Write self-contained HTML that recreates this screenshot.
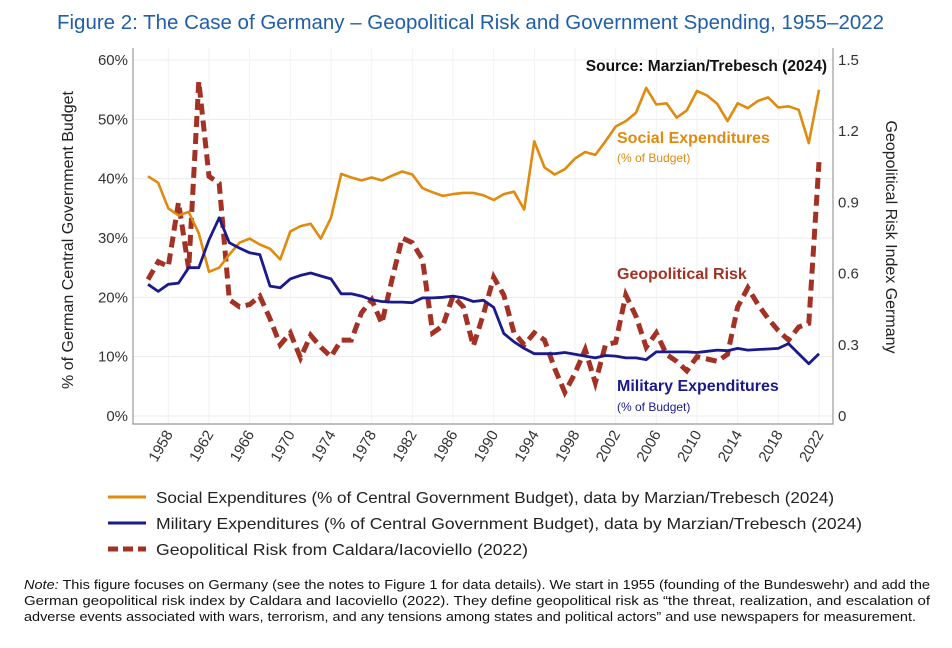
<!DOCTYPE html>
<html><head><meta charset="utf-8"><style>
body{margin:0;background:#fff;}
svg text{font-family:"Liberation Sans",Arial,sans-serif;}
</style></head><body>
<svg id="chart" width="952" height="643" viewBox="0 0 952 643" xmlns="http://www.w3.org/2000/svg">
<text x="57" y="29" font-size="20" fill="#1f5ea8" textLength="827" lengthAdjust="spacingAndGlyphs">Figure 2: The Case of Germany – Geopolitical Risk and Government Spending, 1955–2022</text>
<g id="grid"></g>
<g id="axes"></g>
<g id="series"></g>
<text x="827" y="71" text-anchor="end" font-size="15.5" font-weight="bold" fill="#111">Source: Marzian/Trebesch (2024)</text>
<text x="617" y="143" font-size="16" font-weight="bold" fill="#e08a10">Social Expenditures</text>
<text x="617" y="162" font-size="12" fill="#e08a10">(% of Budget)</text>
<text x="617" y="279" font-size="16" font-weight="bold" fill="#a33224">Geopolitical Risk</text>
<text x="617" y="391" font-size="16" font-weight="bold" fill="#1a1a8c">Military Expenditures</text>
<text x="617" y="411" font-size="12" fill="#1a1a8c">(% of Budget)</text>
<text transform="translate(73,240) rotate(-90)" text-anchor="middle" font-size="16" fill="#222">% of German Central Government Budget</text>
<text transform="translate(886,237) rotate(90)" text-anchor="middle" font-size="16" fill="#222">Geopolitical Risk Index Germany</text>
<g>
<line x1="108" y1="497" x2="146" y2="497" stroke="#e08a10" stroke-width="3"/>
<text x="156" y="503" font-size="16" fill="#222" textLength="678" lengthAdjust="spacingAndGlyphs">Social Expenditures (% of Central Government Budget), data by Marzian/Trebesch (2024)</text>
<line x1="108" y1="523" x2="146" y2="523" stroke="#1a1a8c" stroke-width="3"/>
<text x="156" y="529" font-size="16" fill="#222" textLength="706" lengthAdjust="spacingAndGlyphs">Military Expenditures (% of Central Government Budget), data by Marzian/Trebesch (2024)</text>
<line x1="108" y1="549" x2="146" y2="549" stroke="#a33224" stroke-width="5" stroke-dasharray="10 5"/>
<text x="156" y="555" font-size="16" fill="#222" textLength="372" lengthAdjust="spacingAndGlyphs">Geopolitical Risk from Caldara/Iacoviello (2022)</text>
</g>
<g font-size="13" fill="#111">
<text x="24" y="589" textLength="906" lengthAdjust="spacingAndGlyphs"><tspan font-style="italic">Note:</tspan> This figure focuses on Germany (see the notes to Figure 1 for data details). We start in 1955 (founding of the Bundeswehr) and add the</text>
<text x="24" y="605" textLength="906" lengthAdjust="spacingAndGlyphs">German geopolitical risk index by Caldara and Iacoviello (2022). They define geopolitical risk as “the threat, realization, and escalation of</text>
<text x="24" y="621" textLength="892" lengthAdjust="spacingAndGlyphs">adverse events associated with wars, terrorism, and any tensions among states and political actors” and use newspapers for measurement.</text>
</g>
</svg>
<script>
const years = [];
for (let y = 1956; y <= 2022; y++) years.push(y);
const social = [40.4,39.3,35.0,33.8,34.4,30.8,24.3,25.0,27.2,29.2,29.9,28.9,28.2,26.4,31.1,32.0,32.4,29.9,33.4,40.8,40.2,39.7,40.2,39.7,40.5,41.2,40.7,38.4,37.7,37.1,37.4,37.6,37.6,37.2,36.4,37.4,37.8,34.8,46.3,41.9,40.7,41.6,43.4,44.5,44.0,46.3,48.8,49.7,51.1,55.3,52.5,52.7,50.3,51.5,54.8,54.0,52.6,49.7,52.7,51.9,53.1,53.7,52.0,52.2,51.6,46.0,55.0];
const military = [22.2,21.0,22.2,22.4,25.0,25.0,29.7,33.4,29.2,28.3,27.5,27.2,21.9,21.6,23.1,23.7,24.1,23.6,23.1,20.6,20.6,20.2,19.6,19.3,19.2,19.2,19.1,19.9,19.9,20.0,20.2,19.9,19.3,19.5,18.3,13.9,12.5,11.4,10.5,10.5,10.5,10.7,10.4,10.1,9.8,10.2,10.1,9.8,9.8,9.5,10.8,10.8,10.8,10.8,10.7,10.9,11.1,11.0,11.4,11.1,11.2,11.3,11.4,12.2,10.5,8.8,10.5];
const risk = [0.575,0.65,0.63,0.90,0.62,1.41,1.01,0.98,0.49,0.46,0.47,0.505,0.41,0.30,0.35,0.245,0.34,0.29,0.25,0.32,0.32,0.435,0.49,0.39,0.575,0.75,0.73,0.66,0.35,0.38,0.505,0.46,0.295,0.43,0.585,0.51,0.35,0.30,0.35,0.32,0.20,0.10,0.18,0.28,0.14,0.30,0.31,0.51,0.42,0.29,0.35,0.26,0.23,0.19,0.25,0.24,0.23,0.26,0.46,0.54,0.47,0.41,0.36,0.32,0.375,0.39,1.07];
const leftTicks = [0,10,20,30,40,50,60];
const rightTicks = [0,0.3,0.6,0.9,1.2,1.5];
const xTicks = [1958,1962,1966,1970,1974,1978,1982,1986,1990,1994,1998,2002,2006,2010,2014,2018,2022];

const NS = "http://www.w3.org/2000/svg";
const X = y => 148 + (y - 1956) * (671 / 66);
const YL = p => 416 - p * (356 / 60);
const YR = r => 416 - r * (356 / 1.5);
function mk(tag, attrs, parent, txt) {
  const e = document.createElementNS(NS, tag);
  for (const k in attrs) e.setAttribute(k, attrs[k]);
  if (txt !== undefined) e.textContent = txt;
  parent.appendChild(e);
  return e;
}
const grid = document.getElementById('grid');
const axes = document.getElementById('axes');
const series = document.getElementById('series');

leftTicks.forEach(t => {
  const l = mk('line', {x1:133, x2:833, y1:YL(t), y2:YL(t), stroke:'#ececec', 'stroke-width':1}, grid);
  
  
  const tx = mk('text', {x:128, y:YL(t)+5, 'text-anchor':'end', 'font-size':15, fill:'#333'}, axes, t + '%');
  
  
});
rightTicks.forEach(t => {
  const tx = mk('text', {x:838, y:YR(t)+5, 'font-size':15, fill:'#333'}, axes, t === 0 ? '0' : String(t));
  
  
});
xTicks.forEach(t => {
  const l = mk('line', {x1:X(t), x2:X(t), y1:48, y2:424, stroke:'#f2f2f2', 'stroke-width':1}, grid);
  
  
  const tx = mk('text', {transform:`translate(${X(t)+5},${434}) rotate(-60)`, 'text-anchor':'end', 'font-size':15, fill:'#333'}, axes, String(t));
  
  
});
const la = mk('path', {d:'M133,48 V424 H833 V48', fill:'none', stroke:'#999', 'stroke-width':1.2}, axes);



function line(vals, yf, attrs, name) {
  const d = vals.map((v, i) => (i ? 'L' : 'M') + X(years[i]).toFixed(1) + ',' + yf(v).toFixed(1)).join('');
  const p = mk('path', Object.assign({d, fill:'none', 'stroke-linejoin':'round'}, attrs), series);
  
  
}
line(risk, YR, {stroke:'#a33224', 'stroke-width':5, 'stroke-dasharray':'11 6', 'stroke-linejoin':'miter'}, 'risk-line');
line(social, YL, {stroke:'#e08a10', 'stroke-width':2.6}, 'social-line');
line(military, YL, {stroke:'#1a1a8c', 'stroke-width':2.8}, 'military-line');
</script>
</body></html>
